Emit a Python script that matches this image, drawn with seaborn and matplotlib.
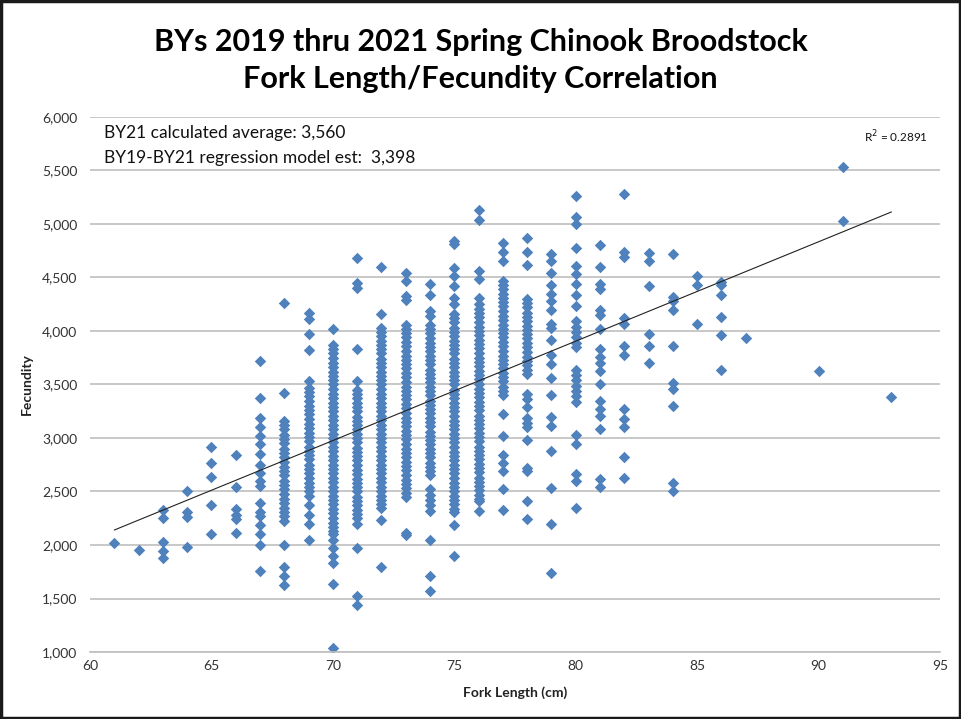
import matplotlib
matplotlib.use("Agg")
import matplotlib.pyplot as plt
import matplotlib.ticker as mticker
from matplotlib.patches import Rectangle
import numpy as np
import pandas as pd
import seaborn as sns

# Fork length (cm) and fecundity (eggs) for each fish, grouped by length
fec_61 = [2020]
fec_62 = [1950]
fec_63 = [2330, 2250, 2030, 1940, 1880]
fec_64 = [2500, 2310, 2260, 1980]
fec_65 = [2920, 2770, 2640, 2370, 2100]
fec_66 = [2840, 2540, 2340, 2280, 2240, 2110]
fec_67 = [3720, 3370, 3190, 3100, 3020, 2940, 2850, 2750, 2670, 2600, 2550,
          2390, 2310, 2270, 2190, 2100, 2000, 1760]
fec_68 = [4260, 3420, 3160, 3120, 3080, 3030, 2990, 2950, 2900, 2860, 2820,
          2780, 2730, 2690, 2650, 2600, 2560, 2520, 2480, 2430, 2390, 2350,
          2310, 2270, 2220, 2000, 1790, 1710, 1630]
fec_69 = [4170, 4110, 3970, 3820, 3530, 3470, 3430, 3390, 3350, 3300, 3260,
          3220, 3180, 3130, 3090, 3050, 3010, 2970, 2920, 2880, 2840, 2800,
          2750, 2710, 2670, 2630, 2580, 2540, 2500, 2460, 2370, 2280, 2200, 2050]
fec_70 = [4020, 3870, 3830, 3790, 3750, 3700, 3660, 3620, 3580, 3540, 3500,
          3460, 3410, 3370, 3330, 3290, 3250, 3210, 3170, 3120, 3080, 3040,
          3000, 2960, 2920, 2880, 2830, 2790, 2750, 2710, 2670, 2630, 2590,
          2540, 2500, 2460, 2420, 2380, 2340, 2300, 2250, 2210, 2170, 2130,
          2100, 2050, 1970, 1900, 1830, 1640, 1040]
fec_71 = [4680, 4450, 4400, 3830, 3530, 3450, 3410, 3370, 3330, 3290, 3250,
          3200, 3160, 3120, 3080, 3040, 3000, 2960, 2910, 2870, 2830, 2790,
          2750, 2700, 2660, 2620, 2580, 2540, 2500, 2450, 2410, 2370, 2330,
          2290, 2250, 2200, 1970, 1520, 1440]
fec_72 = [4600, 4160, 4030, 3990, 3950, 3910, 3870, 3830, 3790, 3740, 3700,
          3660, 3620, 3580, 3540, 3500, 3460, 3410, 3370, 3330, 3290, 3250,
          3210, 3170, 3120, 3080, 3040, 3000, 2960, 2920, 2880, 2830, 2790,
          2750, 2710, 2670, 2630, 2590, 2540, 2500, 2460, 2420, 2380, 2350,
          2230, 1790]
fec_73 = [4540, 4470, 4330, 4290, 4060, 4020, 3980, 3940, 3900, 3860, 3810,
          3770, 3730, 3690, 3650, 3610, 3570, 3520, 3480, 3440, 3400, 3360,
          3320, 3280, 3230, 3190, 3150, 3110, 3070, 3030, 2990, 2940, 2900,
          2860, 2820, 2780, 2740, 2700, 2650, 2610, 2570, 2530, 2490, 2450,
          2110, 2090]
fec_74 = [4440, 4340, 4190, 4140, 4060, 4020, 3980, 3930, 3890, 3850, 3810,
          3770, 3730, 3690, 3640, 3600, 3560, 3520, 3480, 3440, 3400, 3350,
          3310, 3270, 3230, 3190, 3150, 3110, 3060, 3020, 2980, 2940, 2900,
          2860, 2820, 2770, 2730, 2690, 2650, 2520, 2470, 2420, 2370, 2320,
          2050, 1710, 1570]
fec_75 = [4840, 4810, 4590, 4510, 4420, 4310, 4250, 4160, 4120, 4080, 4030,
          3990, 3950, 3910, 3870, 3830, 3790, 3740, 3700, 3660, 3620, 3580,
          3540, 3500, 3450, 3410, 3370, 3330, 3290, 3250, 3210, 3160, 3120,
          3080, 3040, 3000, 2960, 2920, 2870, 2830, 2790, 2750, 2710, 2670,
          2630, 2580, 2540, 2500, 2460, 2420, 2380, 2340, 2310, 2190, 1900]
fec_76 = [5130, 5040, 4560, 4490, 4310, 4250, 4210, 4170, 4130, 4080, 4040,
          4000, 3960, 3920, 3880, 3840, 3790, 3750, 3710, 3670, 3630, 3590,
          3550, 3500, 3460, 3420, 3380, 3340, 3300, 3260, 3210, 3170, 3130,
          3090, 3050, 3010, 2970, 2920, 2880, 2840, 2800, 2760, 2720, 2680,
          2630, 2590, 2550, 2510, 2470, 2430, 2410, 2320]
fec_77 = [4820, 4740, 4650, 4470, 4430, 4390, 4350, 4310, 4270, 4230, 4190,
          4140, 4100, 4060, 4020, 3980, 3940, 3900, 3860, 3810, 3770, 3730,
          3690, 3650, 3610, 3570, 3530, 3480, 3440, 3400, 3220, 3020, 2840,
          2770, 2690, 2520, 2330]
fec_78 = [4870, 4740, 4620, 4300, 4260, 4220, 4170, 4130, 4090, 4050, 4010,
          3970, 3930, 3890, 3850, 3800, 3760, 3720, 3680, 3640, 3600, 3410,
          3360, 3290, 3190, 3140, 3100, 2980, 2720, 2690, 2410, 2240]
fec_79 = [4720, 4650, 4540, 4430, 4350, 4280, 4200, 4070, 4030, 3920, 3780,
          3690, 3560, 3400, 3200, 3110, 2880, 2530, 2200, 1740]
fec_80 = [5260, 5070, 5000, 4780, 4610, 4530, 4440, 4340, 4230, 4090, 4040,
          3990, 3940, 3890, 3850, 3640, 3590, 3540, 3490, 3440, 3390, 3340,
          3030, 2940, 2660, 2600, 2350]
fec_81 = [4800, 4600, 4440, 4390, 4200, 4150, 4020, 3830, 3760, 3700, 3630,
          3500, 3350, 3270, 3210, 3080, 2620, 2540]
fec_82 = [5280, 4740, 4690, 4120, 4070, 3860, 3780, 3270, 3180, 3100, 2820, 2630]
fec_83 = [4730, 4650, 4420, 3970, 3860, 3700]
fec_84 = [4720, 4320, 4280, 4200, 3860, 3510, 3460, 3300, 2580, 2500]
fec_85 = [4510, 4430, 4070]
fec_86 = [4460, 4430, 4340, 4130, 3960, 3640]
fec_87 = [3930]
fec_90 = [3630]
fec_91 = [5530, 5030]
fec_93 = [3380]

lengths = [61, 62, 63, 64, 65, 66, 67, 68, 69, 70, 71, 72, 73, 74, 75, 76,
           77, 78, 79, 80, 81, 82, 83, 84, 85, 86, 87, 90, 91, 93]
fecundity_groups = [fec_61, fec_62, fec_63, fec_64, fec_65, fec_66, fec_67,
                    fec_68, fec_69, fec_70, fec_71, fec_72, fec_73, fec_74,
                    fec_75, fec_76, fec_77, fec_78, fec_79, fec_80, fec_81,
                    fec_82, fec_83, fec_84, fec_85, fec_86, fec_87, fec_90,
                    fec_91, fec_93]

# Linear trendline of the full BY19-BY21 data set (fecundity per cm)
trend_slope = 92.9
trend_intercept = -3527.0
r_squared = 0.2891

title_lines = ["BYs 2019 thru 2021 Spring Chinook Broodstock",
               "Fork Length/Fecundity Correlation"]
note_lines = ["BY21 calculated average: 3,560",
              "BY19-BY21 regression model est:  3,398"]

# Long-form table: one row per fish
df = pd.DataFrame({
    "Fork Length (cm)": np.concatenate(
        [[L] * len(g) for L, g in zip(lengths, fecundity_groups)]),
    "Fecundity": np.concatenate(fecundity_groups),
})

trend_x = np.array([min(lengths), max(lengths)], dtype=float)
trend_df = pd.DataFrame({"x": trend_x,
                         "y": trend_intercept + trend_slope * trend_x})

sns.set_theme(style="white")
plt.rcParams["font.family"] = ["Lato", "DejaVu Sans"]

fig = plt.figure(figsize=(9.61, 7.19), dpi=100)
ax = fig.add_axes([90 / 961, 1 - 652 / 719, 850 / 961, 535 / 719])

point_color = "#4F81BD"
sns.scatterplot(data=df, x="Fork Length (cm)", y="Fecundity", ax=ax,
                marker="D", s=34, color=point_color, linewidth=0, zorder=2)
sns.lineplot(data=trend_df, x="x", y="y", ax=ax, color="#222222", lw=0.8,
             zorder=3)

ax.set_xlim(60, 95)
ax.set_ylim(1000, 6000)
ax.set_xticks(range(60, 96, 5))
ax.set_yticks(range(1000, 6001, 500))
ax.yaxis.set_major_formatter(mticker.FuncFormatter(lambda v, p: f"{int(v):,}"))
ax.grid(axis="y", color="#BFBFBF", lw=1.2)
ax.grid(axis="x", visible=False)
ax.set_axisbelow(True)
for side in ["left", "right", "top"]:
    ax.spines[side].set_visible(False)
ax.spines["bottom"].set_color("#BFBFBF")
ax.spines["bottom"].set_linewidth(1.2)
ax.tick_params(axis="both", length=0, labelsize=10, colors="#333333")
ax.tick_params(axis="y", pad=9)
ax.tick_params(axis="x", pad=6)

ax.set_xlabel("Fork Length (cm)", fontsize=10, fontweight="bold",
              color="#222222", labelpad=10)
ax.set_ylabel("Fecundity", fontsize=10, fontweight="bold", color="#222222")
ax.yaxis.set_label_coords(-0.067, 0.5)

fig.text(0.5, 1 - 42 / 719, title_lines[0], ha="center", va="center",
         fontsize=22, fontweight="bold", color="black")
fig.text(0.5, 1 - 79 / 719, title_lines[1], ha="center", va="center",
         fontsize=22, fontweight="bold", color="black")

ax.text(0.0165, 0.970, note_lines[0], transform=ax.transAxes, ha="left",
        va="center", fontsize=12.5, color="#111111")
ax.text(0.0165, 0.923, note_lines[1], transform=ax.transAxes, ha="left",
        va="center", fontsize=12.5, color="#111111")
ax.text(0.986, 0.963, f"R$^2$ = {r_squared:.4f}", transform=ax.transAxes,
        ha="right", va="center", fontsize=8.5, color="#111111")

fig.patches.append(Rectangle((0.0015, 0.002), 0.997, 0.996,
                             transform=fig.transFigure, fill=False,
                             lw=2.5, ec="#1a1a1a"))

fig.savefig("out.png", dpi=100, facecolor="white")
